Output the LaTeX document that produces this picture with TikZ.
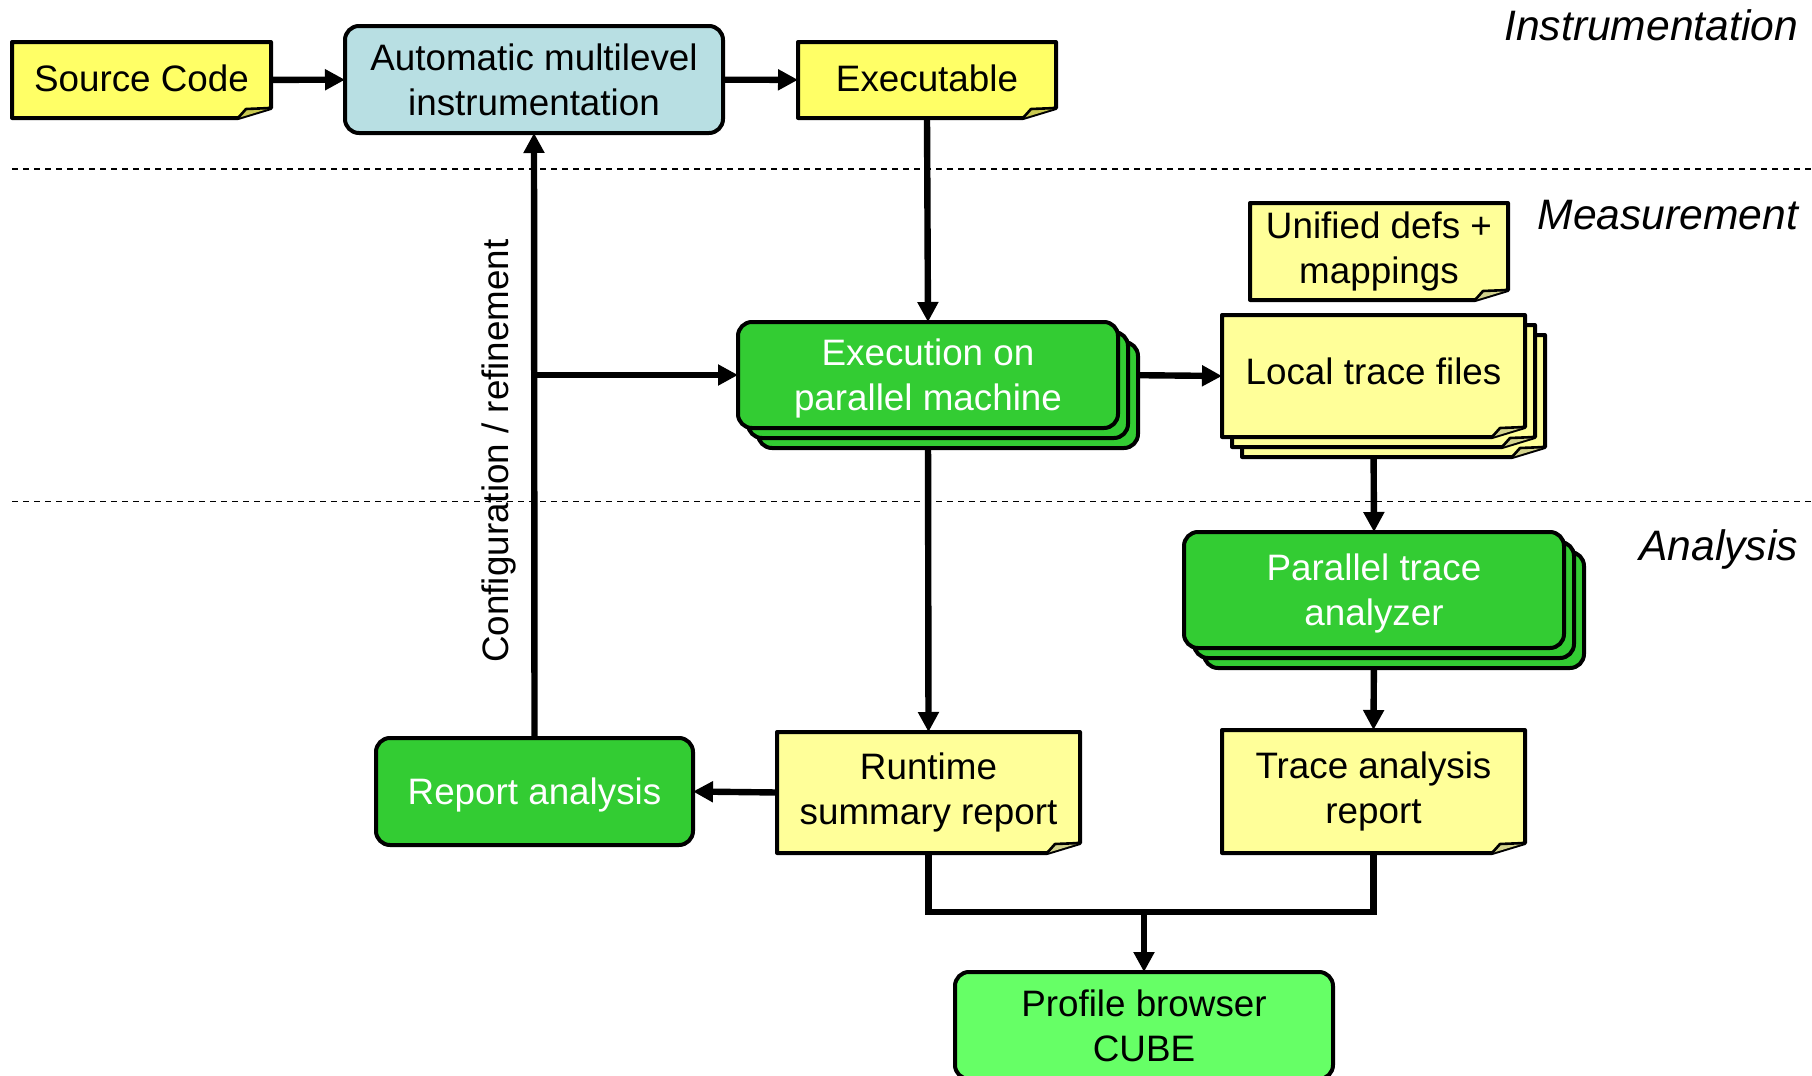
\documentclass[tikz,border=0pt]{standalone}
\usepackage{fontspec}
\setmainfont{Liberation Sans}
\usetikzlibrary{arrows.meta,calc,shadows}
\pgfdeclarelayer{links}
\pgfdeclarelayer{paper}
\pgfsetlayers{links,paper,main}

\definecolor{noteY}{HTML}{FFFF66}
\definecolor{noteP}{HTML}{FFFF99}
\definecolor{foldY}{HTML}{C8C850}
\definecolor{foldP}{HTML}{D2D28C}
\definecolor{instrB}{HTML}{B8DFE3}
\definecolor{runG}{HTML}{33CC33}
\definecolor{viewG}{HTML}{66FF66}

\tikzset{
  lbl/.style={font=\fontsize{18.4}{22.5}\selectfont, align=center, inner sep=0pt, outer sep=0pt},
  tag/.style={font=\fontsize{21.3}{25}\selectfont\itshape, inner sep=0pt, outer sep=0pt},
  sheet/.style={lbl, rectangle},
  rbox/.style={lbl, rectangle, draw=black, line width=2pt, rounded corners=7pt},
  runbox/.style={rbox, fill=runG, text=white},
  stack3/.style={
    copy shadow={shadow xshift=10pt, shadow yshift=-10pt, fill=runG, draw=black, line width=2pt},
    copy shadow={shadow xshift=5pt, shadow yshift=-5pt, fill=runG, draw=black, line width=2pt}},
  link/.style={line width=3.2pt},
  arr/.style={link, -{Triangle[length=10pt,width=10pt]}},
  sep/.style={line width=0.8pt, dash pattern=on 3pt off 2.5pt},
}

% dog-eared sheet drawn behind node #1, fill #2, fold #3, offset #4
\newcommand\notesheet[4]{%
  \draw[line width=2pt, line join=round, fill=#2]
    ($(#1.north west)+(#4)$) -- ($(#1.north east)+(#4)$)
    -- ($(#1.south east)+(#4)+(0,-10)$) -- ($(#1.south east)+(#4)+(-33,0)$)
    -- ($(#1.south west)+(#4)$) -- cycle;
  \draw[line width=1.3pt, line join=round, fill=#3]
    ($(#1.south east)+(#4)+(-33,0)$) -- ($(#1.south east)+(#4)+(-25,-9)$)
    -- ($(#1.south east)+(#4)+(0,-10)$);
}

\begin{document}
\begin{tikzpicture}[x=0.5pt, y=-0.5pt]
\useasboundingbox (0,0) rectangle (1812,1076);

% nodes
\node[sheet, text height=13.5pt, text depth=2.5pt, minimum width=129.5pt, minimum height=38pt]
  (src) at (141.5,80) {Source Code};
\node[rbox, fill=instrB, minimum width=189pt, minimum height=53.5pt] (auto) at (534,79.5)
  {Automatic multilevel\\instrumentation};
\node[sheet, text height=13.5pt, text depth=2.5pt, minimum width=129pt, minimum height=38pt]
  (exe) at (927,80) {Executable};
\node[sheet, minimum width=129pt, minimum height=48.5pt] (unif) at (1379,251.5) {Unified defs +\\mappings};
\node[sheet, text height=13.5pt, text depth=5.5pt, minimum width=151.5pt, minimum height=61pt]
  (ltf) at (1373.5,376) {Local trace files};
\node[runbox, stack3, text height=39.7pt, text depth=3.9pt, minimum width=190pt, minimum height=53pt]
  (exec) at (928,375) {Execution on\\parallel machine};
\node[runbox, stack3, text height=39.7pt, text depth=3.9pt, minimum width=190pt, minimum height=58pt]
  (pta) at (1374,590) {Parallel trace\\analyzer};
\node[sheet, minimum width=151.5pt, minimum height=60.5pt] (rt) at (928.5,792.5) {Runtime\\summary report};
\node[sheet, minimum width=151.5pt, minimum height=61.5pt] (tr) at (1373.5,791.5) {Trace analysis\\report};
\node[runbox, text height=13.5pt, text depth=0.3pt, minimum width=158.5pt, minimum height=53.5pt]
  (rep) at (534.5,791.5) {Report analysis};
\node[rbox, fill=viewG, minimum width=189pt, minimum height=53.5pt] (pb) at (1144,1025.5)
  {Profile browser\\CUBE};

% phase tags
\node[tag, anchor=east] (tinstr) at (1798,25) {Instrumentation};
\node[tag, anchor=east] (tmeas) at (1798,215) {Measurement};
\node[tag, anchor=east] (tana) at (1798,549) {Analysis};
\node[lbl, rotate=90] (cfg) at (499,451) {Configuration / refinement};

% sheets
\begin{pgfonlayer}{paper}
  \notesheet{src}{noteY}{foldY}{0,0}
  \notesheet{exe}{noteY}{foldY}{0,0}
  \notesheet{unif}{noteP}{foldP}{0,0}
  \notesheet{ltf}{noteP}{foldP}{20,20}
  \notesheet{ltf}{noteP}{foldP}{10,10}
  \notesheet{ltf}{noteP}{foldP}{0,0}
  \notesheet{rt}{noteP}{foldP}{0,0}
  \notesheet{tr}{noteP}{foldP}{0,0}
\end{pgfonlayer}

% phase separators and connectors
\begin{pgfonlayer}{links}
  \coordinate (sepA) at (12,169);
  \coordinate (sepB) at (12,501.5);
  \draw[sep] (sepA) -- ++(1800,0);
  \draw[sep] (sepB) -- ++(1800,0);

  \draw[arr] (src) -- (auto);
  \draw[arr] (auto) -- (exe);
  \draw[arr] (exe.south) -- (exec.north);
  \draw[arr] (rep.north) -- (auto.south);
  \coordinate (fork) at (auto.south |- exec.west);
  \draw[arr] (fork) -- (exec.west);
  \draw[arr] (exec.east) -- (ltf.west);
  \draw[arr] (ltf.south) -- (pta.north);
  \draw[arr] (exec.south) -- (rt.north);
  \draw[arr] (pta.south) -- (tr.north);
  \draw[arr] (rt.west) -- (rep.east);
  \coordinate (join) at (1144,912);
  \draw[link] (rt.south) |- (join) -| (tr.south);
  \draw[arr] (join) -- (pb.north);
\end{pgfonlayer}
\end{tikzpicture}
\end{document}
